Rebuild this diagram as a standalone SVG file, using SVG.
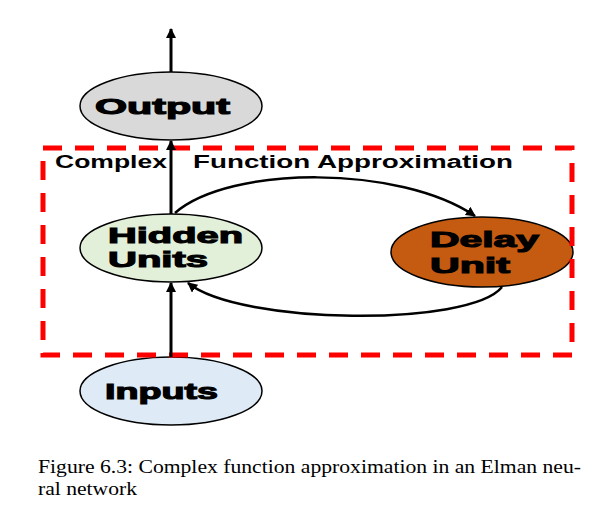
<svg xmlns="http://www.w3.org/2000/svg" width="602" height="513" viewBox="0 0 602 513">
  <style>
    .node { stroke: #000; stroke-width: 1.5; }
    .lbl { font-family: "Liberation Sans", Arial, sans-serif; font-weight: bold; font-size: 22px; fill: #000; stroke: #000; stroke-width: 1.1; }
    .frame { fill: none; stroke: #FF0000; stroke-width: 5; stroke-dasharray: 19 13; }
    .title { font-family: "Liberation Sans", Arial, sans-serif; font-weight: bold; font-size: 18px; fill: #000; }
    .conn { fill: none; stroke: #000; }
    .cap { font-family: "Liberation Serif", "Times New Roman", serif; font-size: 19px; fill: #000; }
  </style>
  <defs>
    <marker id="ah" markerWidth="10" markerHeight="10" refX="9" refY="5" orient="auto" markerUnits="userSpaceOnUse">
      <path d="M0,0 L10,5 L0,10 z" fill="#000"/>
    </marker>
  </defs>
  <rect width="602" height="513" fill="#fff"/>

  <g id="output">
    <ellipse class="node" cx="171" cy="106" rx="91" ry="34" fill="#D9D9D9"/>
    <text class="lbl" x="95" y="114" textLength="135" lengthAdjust="spacingAndGlyphs">Output</text>
  </g>
  <g id="hidden">
    <ellipse class="node" cx="171" cy="248" rx="91" ry="34" fill="#E2EFD9"/>
    <text class="lbl" x="108" y="243" textLength="135" lengthAdjust="spacingAndGlyphs">Hidden</text>
    <text class="lbl" x="108" y="267" textLength="100" lengthAdjust="spacingAndGlyphs">Units</text>
  </g>
  <g id="delay">
    <ellipse class="node" cx="482" cy="252" rx="91" ry="35" fill="#C55A11"/>
    <text class="lbl" x="430" y="247" textLength="109" lengthAdjust="spacingAndGlyphs">Delay</text>
    <text class="lbl" x="430" y="273" textLength="80" lengthAdjust="spacingAndGlyphs">Unit</text>
  </g>
  <g id="inputs">
    <ellipse class="node" cx="171" cy="391" rx="91" ry="34" fill="#DEEBF7"/>
    <text class="lbl" x="105" y="399" textLength="113" lengthAdjust="spacingAndGlyphs">Inputs</text>
  </g>

  <g id="frame">
    <rect class="frame" x="43" y="148" width="529" height="207"/>
    <text class="title" x="55" y="168" textLength="112" lengthAdjust="spacingAndGlyphs">Complex</text>
    <text class="title" x="193" y="168" textLength="320" lengthAdjust="spacingAndGlyphs">Function Approximation</text>
  </g>

  <g id="connectors">
    <line class="conn" stroke-width="3" x1="171" y1="72" x2="171" y2="29" marker-end="url(#ah)"/>
    <line class="conn" stroke-width="3" x1="171" y1="214" x2="171" y2="141" marker-end="url(#ah)"/>
    <line class="conn" stroke-width="3" x1="171" y1="357" x2="171" y2="283" marker-end="url(#ah)"/>
    <path class="conn" stroke-width="2.5" d="M175,213 C230,165 400,165 475,216" marker-end="url(#ah)"/>
    <path class="conn" stroke-width="2.5" d="M502,287 C470,327 240,325 188,283" marker-end="url(#ah)"/>
  </g>

  <g id="caption">
    <text class="cap" x="38" y="473" textLength="543" lengthAdjust="spacingAndGlyphs">Figure 6.3: Complex function approximation in an Elman neu-</text>
    <text class="cap" x="38" y="495" textLength="99" lengthAdjust="spacingAndGlyphs">ral network</text>
  </g>
</svg>
